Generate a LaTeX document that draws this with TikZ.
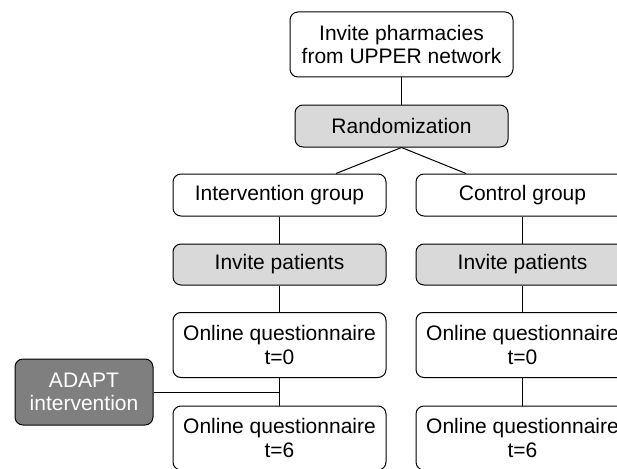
\documentclass[tikz,border=0pt]{standalone}
\usepackage{fontspec}
\setmainfont{Liberation Sans}
\usetikzlibrary{positioning}
\definecolor{lightfill}{HTML}{D9D9D9}
\definecolor{darkfill}{HTML}{7F7F7F}
\tikzset{
    stagebox/.style={draw, black, line width=1pt, rounded corners=8pt, align=center,
        minimum width=213pt, inner sep=0pt, font=\fontsize{21}{23.5}\selectfont},
    greybox/.style={stagebox, fill=lightfill},
    link/.style={line width=1pt, black}
}

\begin{document}
\begin{tikzpicture}[x=1pt, y=-1pt]
            \useasboundingbox (0,0) rectangle (617,468);
            \clip (0,0) rectangle (617,468);

            % top of the trial
            \node[stagebox, minimum width=223pt, minimum height=65pt] (pharm) at (401.5,44.5) {Invite pharmacies\\from UPPER network};
            \node[greybox, minimum height=42pt] (rand) at (401.5,126) {Randomization};

            % intervention arm
            \node[stagebox, minimum height=42pt] (intgrp) at (279.5,195) {Intervention group};
            \node[greybox, minimum height=41pt] (intinv) at (279.5,264.5) {Invite patients};
            \node[stagebox, minimum height=65pt] (intqa) at (279.5,345) {Online questionnaire\\t=0};
            \node[stagebox, minimum height=64pt] (intqb) at (279.5,438) {Online questionnaire\\t=6};

            % control arm
            \node[stagebox, minimum height=42pt] (ctrlgrp) at (522.5,195) {Control group};
            \node[greybox, minimum height=41pt] (ctrlinv) at (522.5,264.5) {Invite patients};
            \node[stagebox, minimum height=65pt] (ctrlqa) at (522.5,345) {Online questionnaire\\t=0};
            \node[stagebox, minimum height=64pt] (ctrlqb) at (522.5,438) {Online questionnaire\\t=6};

            \node[stagebox, fill=darkfill, text=white, minimum width=138pt, minimum height=66pt] (adapt) at (84,392) {ADAPT\\intervention};

            \draw[link] (pharm) -- (rand);
            \draw[link] (rand.south) -- ([xshift=56.5pt]intgrp.north);
            \draw[link] (rand.south) -- ([xshift=-56.5pt]ctrlgrp.north);
            \draw[link] (intgrp) -- (intinv);
            \draw[link] (intinv) -- (intqa);
            \draw[link] (intqa) -- (intqb);
            \draw[link] (ctrlgrp) -- (ctrlinv);
            \draw[link] (ctrlinv) -- (ctrlqa);
            \draw[link] (ctrlqa) -- (ctrlqb);
            \coordinate (join) at (intqa.center |- adapt.east);
            \draw[link] (adapt.east) -- (join);

        \end{tikzpicture}
\end{document}
